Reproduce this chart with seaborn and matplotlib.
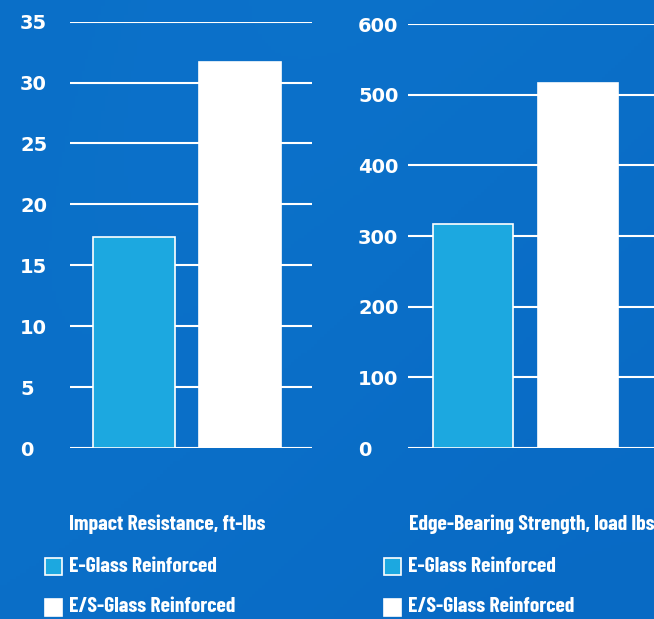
import numpy as np
import pandas as pd
import matplotlib
matplotlib.use("Agg")
import matplotlib.pyplot as plt
from matplotlib.patches import Rectangle
import seaborn as sns

# ---- data ----
categories = ["E-Glass Reinforced", "E/S-Glass Reinforced"]
impact_values = [17.3, 31.7]
edge_values = [317, 516]
impact_ticks = [0, 5, 10, 15, 20, 25, 30, 35]
edge_ticks = [0, 100, 200, 300, 400, 500, 600]
titles = ["Impact Resistance, ft-lbs", "Edge-Bearing Strength, load lbs"]

LIGHT = "#1ca8e0"
WHITE = "#ffffff"
colors = [LIGHT, WHITE]

sns.set_theme(style="white")
plt.rcParams["font.family"] = ["DejaVu Sans"]
COND = ["Barlow Condensed", "Saira ExtraCondensed", "DejaVu Sans"]

W, H = 654, 619
fig = plt.figure(figsize=(W / 100, H / 100), dpi=100)

# background gradient
bg = fig.add_axes([0, 0, 1, 1], zorder=-10)
yy, xx = np.mgrid[0:1:200j, 0:1:200j]
grad = 0.5 + 0.1 * np.sin(xx * 3 + yy * 2) - 0.1 * yy
c1 = np.array(matplotlib.colors.to_rgb("#0664c0"))
c2 = np.array(matplotlib.colors.to_rgb("#0f7ad0"))
img = c1[None, None, :] * (1 - grad[..., None]) + c2[None, None, :] * grad[..., None]
bg.imshow(img, aspect="auto", extent=[0, 1, 0, 1])
bg.set_axis_off()

def fx(px):
    return px / W

def fy(py):
    return 1 - py / H

panels = [
    dict(vals=impact_values, ticks=impact_ticks, ymax=35, left=70, right=312,
         top=21.7, bottom=448, xlim=(-0.604, 1.679), width=0.765,
         title=titles[0], title_x=69, leg_x=45),
    dict(vals=edge_values, ticks=edge_ticks, ymax=600, left=408, right=654,
         top=24, bottom=448, xlim=(-0.619, 1.724), width=0.77,
         title=titles[1], title_x=409, leg_x=384),
]

for p in panels:
    ax = fig.add_axes([fx(p["left"]), fy(p["bottom"]),
                       fx(p["right"] - p["left"]), (p["bottom"] - p["top"]) / H])
    ax.set_facecolor("none")
    df = pd.DataFrame({"cat": categories, "val": p["vals"]})
    sns.barplot(data=df, x="cat", y="val", hue="cat", palette=colors,
                dodge=False, width=p["width"], legend=False, ax=ax,
                edgecolor=WHITE, linewidth=1.2, saturation=1, zorder=3)
    ax.set_ylim(0, p["ymax"])
    ax.set_xlim(*p["xlim"])
    ax.set_yticks(p["ticks"])
    ax.set_yticklabels([str(t) for t in p["ticks"]])
    ax.yaxis.grid(True, color=WHITE, linewidth=1.5, zorder=0)
    ax.set_axisbelow(True)
    ax.set_xticks([])
    ax.set_xlabel("")
    ax.set_ylabel("")
    for s in ax.spines.values():
        s.set_visible(False)
    ax.tick_params(axis="y", length=0, pad=36, labelcolor=WHITE, labelsize=14)
    for lab in ax.get_yticklabels():
        lab.set_horizontalalignment("left")
        lab.set_fontweight("bold")

    # title and legend
    fig.text(fx(p["title_x"]), fy(524), p["title"], color=WHITE,
             fontsize=15.5, fontweight="bold", va="center", ha="left", family=COND)
    for i, (cat, col) in enumerate(zip(categories, colors)):
        yc = 566 + i * 41
        fig.patches.append(Rectangle((fx(p["leg_x"]), fy(yc + 8.5)), fx(17), 17 / H,
                                     facecolor=col, edgecolor=WHITE, linewidth=1.2,
                                     transform=fig.transFigure, figure=fig))
        fig.text(fx(p["leg_x"] + 24), fy(yc), cat, color=WHITE, fontsize=15.5,
                 fontweight="bold", va="center", ha="left", family=COND)

fig.savefig("out.png", dpi=100)
